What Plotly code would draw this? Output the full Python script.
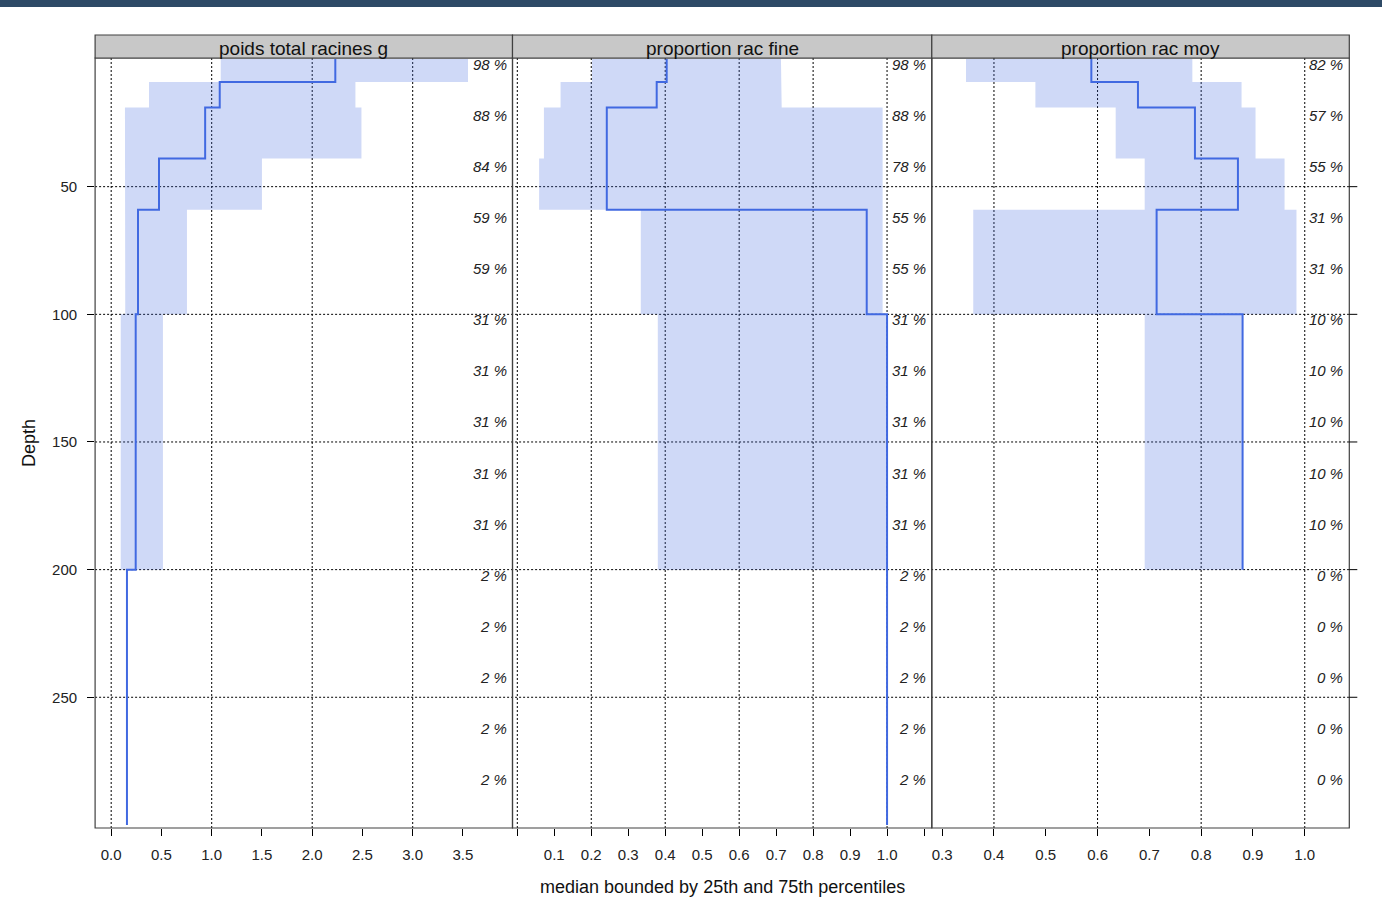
import plotly.graph_objects as go

# Depth slabs (cm)
slab_top = [0, 9, 19, 39, 59, 100, 200]
slab_bottom = [9, 19, 39, 59, 100, 200, 300]

variables = ["poids total racines g", "proportion rac fine", "proportion rac moy"]

# poids_total_racines_g : median and 25th / 75th percentiles per slab
p1_median = [2.23, 1.08, 0.935, 0.476, 0.267, 0.244, 0.157]
p1_q25 = [1.09, 0.376, 0.137, 0.137, 0.14, 0.095, None]
p1_q75 = [3.55, 2.43, 2.49, 1.50, 0.754, 0.515, None]

# proportion_rac_fine
p2_median = [0.404, 0.377, 0.242, 0.242, 0.945, 1.0, 1.0]
p2_q25 = [0.202, 0.117, 0.072, 0.059, 0.334, 0.380, None]
p2_q75 = [0.713, 0.715, 0.988, 0.988, 0.988, 1.0, None]

# proportion_rac_moy
p3_median = [0.588, 0.678, 0.788, 0.871, 0.714, 0.880, None]
p3_q25 = [0.346, 0.480, 0.635, 0.691, 0.360, 0.691, None]
p3_q75 = [0.783, 0.878, 0.905, 0.961, 0.984, 0.880, None]

# Contribution labels (% of profiles) along the depth axis
contrib_depth = [0, 20, 40, 60, 80, 100, 120, 140, 160, 180, 200, 220, 240, 260, 280]
p1_contrib = [98, 88, 84, 59, 59, 31, 31, 31, 31, 31, 2, 2, 2, 2, 2]
p2_contrib = [98, 88, 78, 55, 55, 31, 31, 31, 31, 31, 2, 2, 2, 2, 2]
p3_contrib = [82, 57, 55, 31, 31, 10, 10, 10, 10, 10, 0, 0, 0, 0, 0]

# Axis ticks and grid
depth_ticks = [50, 100, 150, 200, 250]
p1_ticks = [0.0, 0.5, 1.0, 1.5, 2.0, 2.5, 3.0, 3.5]
p1_ticktext = ["0.0", "0.5", "1.0", "1.5", "2.0", "2.5", "3.0", "3.5"]
p2_ticks = [0.0, 0.1, 0.2, 0.3, 0.4, 0.5, 0.6, 0.7, 0.8, 0.9, 1.0, 1.1]
p2_ticktext = ["", "0.1", "0.2", "0.3", "0.4", "0.5", "0.6", "0.7", "0.8", "0.9", "1.0", ""]
p3_ticks = [0.3, 0.4, 0.5, 0.6, 0.7, 0.8, 0.9, 1.0]
p3_ticktext = ["0.3", "0.4", "0.5", "0.6", "0.7", "0.8", "0.9", "1.0"]
p1_grid = [0, 1, 2, 3]
p2_grid = [0.0, 0.2, 0.4, 0.6, 0.8, 1.0]
p3_grid = [0.4, 0.6, 0.8, 1.0]

W, H = 1382, 916
LINE = "#4169E1"
BAND = "rgba(65,105,225,0.25)"
FONT = "Liberation Sans, Arial, sans-serif"

# panel geometry in pixels
panel_px = [(95.1, 512.5), (512.5, 931.8), (931.8, 1349.3)]
top_px, bottom_px, strip_top_px = 58, 828, 35
x_ranges = [[-0.160, 3.993], [-0.013, 1.121], [0.280, 1.086]]
y_range = [301.2, -0.4]


def px(x):
    return x / W


def py(y):
    return 1 - y / H


def step_line(values):
    xs, ys = [], []
    for v, t, b in zip(values, slab_top, slab_bottom):
        if v is None:
            continue
        xs += [v, v]
        ys += [t, b]
    return xs, ys


def band_polygon(lower, upper):
    xs, ys = [], []
    for lo, t, b in zip(lower, slab_top, slab_bottom):
        if lo is None:
            continue
        xs += [lo, lo]
        ys += [t, b]
    rev = [(u, t, b) for u, t, b in zip(upper, slab_top, slab_bottom) if u is not None][::-1]
    for u, t, b in rev:
        xs += [u, u]
        ys += [b, t]
    xs.append(xs[0])
    ys.append(ys[0])
    return xs, ys


fig = go.Figure()

panels = [
    (p1_median, p1_q25, p1_q75, p1_contrib, p1_grid, p1_ticks, p1_ticktext),
    (p2_median, p2_q25, p2_q75, p2_contrib, p2_grid, p2_ticks, p2_ticktext),
    (p3_median, p3_q25, p3_q75, p3_contrib, p3_grid, p3_ticks, p3_ticktext),
]

shapes = []
annotations = []

for i, (med, q25, q75, contrib, grid, ticks, ticktext) in enumerate(panels):
    xa = "x" if i == 0 else f"x{i+1}"
    bx, by = band_polygon(q25, q75)
    fig.add_trace(go.Scatter(x=bx, y=by, xaxis=xa, yaxis="y", mode="lines",
                             fill="toself", fillcolor=BAND, line=dict(width=0),
                             hoverinfo="skip", showlegend=False))
    lx, ly = step_line(med)
    fig.add_trace(go.Scatter(x=lx, y=ly, xaxis=xa, yaxis="y", mode="lines",
                             line=dict(color=LINE, width=2), showlegend=False))

    left, right = panel_px[i]
    # vertical dotted grid
    for g in grid:
        shapes.append(dict(type="line", xref=xa, yref="paper", x0=g, x1=g,
                           y0=py(bottom_px), y1=py(top_px), layer="below",
                           line=dict(color="black", width=1, dash="2px,2px")))
    # panel border
    shapes.append(dict(type="rect", xref="paper", yref="paper", x0=px(left), x1=px(right),
                       y0=py(bottom_px), y1=py(top_px), layer="above",
                       line=dict(color="#404040", width=1.2)))
    # strip
    shapes.append(dict(type="rect", xref="paper", yref="paper", x0=px(left), x1=px(right),
                       y0=py(top_px), y1=py(strip_top_px), layer="above",
                       fillcolor="#c8c8c8", line=dict(color="#404040", width=1.2)))
    annotations.append(dict(text=variables[i], xref="paper", yref="paper",
                            x=px((left + right) / 2), y=py(48.5), showarrow=False,
                            xanchor="center", yanchor="middle",
                            font=dict(family=FONT, size=19, color="#111")))
    # contribution labels
    for d, c in zip(contrib_depth, contrib):
        annotations.append(dict(text=f"<i>{c} %</i>", xref="paper", yref="y",
                                x=px(right - 4), y=d, showarrow=False,
                                xanchor="right", yanchor="top", yshift=5,
                                font=dict(family=FONT, size=15, color="#222")))

    axis = dict(domain=[px(left), px(right)], range=x_ranges[i], anchor="y",
                tickmode="array", tickvals=ticks, ticktext=ticktext,
                ticks="outside", ticklen=7, tickwidth=1, tickcolor="black",
                showgrid=False, zeroline=False, showline=False,
                tickfont=dict(family=FONT, size=15, color="#222"),
                ticklabelstandoff=6)
    fig.layout["xaxis" if i == 0 else f"xaxis{i+1}"] = axis

# horizontal dotted grid across all panels
for d in depth_ticks:
    shapes.append(dict(type="line", xref="paper", yref="y", x0=px(panel_px[0][0]),
                       x1=px(panel_px[2][1]), y0=d, y1=d, layer="below",
                       line=dict(color="black", width=1, dash="2px,2px")))
    # right-hand ticks
    shapes.append(dict(type="line", xref="paper", yref="y", x0=px(panel_px[2][1]),
                       x1=px(panel_px[2][1] + 8), y0=d, y1=d,
                       line=dict(color="black", width=1)))

# top banner
shapes.append(dict(type="rect", xref="paper", yref="paper", x0=0, x1=1,
                   y0=py(7), y1=1, fillcolor="#2e4a66", line=dict(width=0)))

annotations.append(dict(text="Depth", xref="paper", yref="paper", x=px(29), y=py(443),
                        textangle=-90, showarrow=False, xanchor="center", yanchor="middle",
                        font=dict(family=FONT, size=18, color="#111")))
annotations.append(dict(text="median bounded by 25th and 75th percentiles", xref="paper",
                        yref="paper", x=px(722), y=py(887), showarrow=False,
                        xanchor="center", yanchor="middle",
                        font=dict(family=FONT, size=18, color="#111")))

fig.update_layout(
    width=W, height=H,
    margin=dict(l=0, r=0, t=0, b=0),
    paper_bgcolor="white", plot_bgcolor="white",
    yaxis=dict(domain=[py(bottom_px), py(top_px)], range=y_range, anchor="x",
               tickmode="array", tickvals=depth_ticks,
               ticks="outside", ticklen=7, tickwidth=1, tickcolor="black",
               showgrid=False, zeroline=False, showline=False,
               tickfont=dict(family=FONT, size=15, color="#222"),
               ticklabelstandoff=7),
    shapes=shapes,
    annotations=annotations,
    showlegend=False,
)

fig.write_html("out.html")
